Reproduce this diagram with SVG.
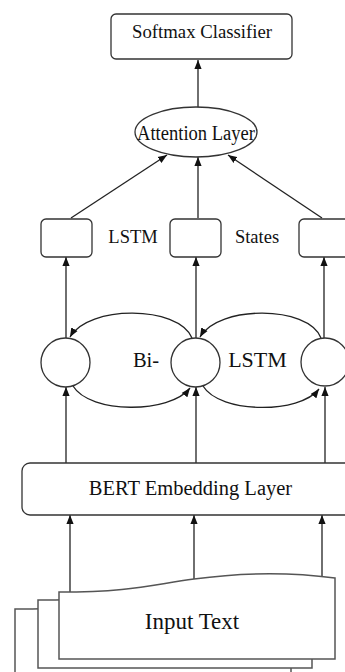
<svg xmlns="http://www.w3.org/2000/svg" width="345" height="672" viewBox="0 0 345 672">
<style>
.n{fill:#fff;stroke:#333;stroke-width:1.3}
.doc{fill:#fff;stroke:#555;stroke-width:1.5}
.t{font-family:"Liberation Serif","DejaVu Serif",serif;fill:#111;text-anchor:middle}
.e{fill:none;stroke:#222;stroke-width:1.3}
</style>
<defs>
<marker id="ah" viewBox="0 0 10 8" refX="10" refY="4" markerWidth="9" markerHeight="8" markerUnits="userSpaceOnUse" orient="auto">
<path d="M0,0 L10,4 L0,8 z" fill="#111"/>
</marker>
</defs>
<rect width="345" height="672" fill="#fff"/>
<g id="connectors" marker-end="url(#ah)">
<path class="e" d="M198,107 L198,60"/>
<path class="e" d="M71,218 L167,155"/>
<path class="e" d="M198,218 L198,157"/>
<path class="e" d="M322,218 L228,155"/>
<path class="e" d="M66,338 L66,257"/>
<path class="e" d="M196,338 L196,257"/>
<path class="e" d="M324,338 L324,257"/>
<path class="e" d="M192,338 C178,305 88,305 70,337"/>
<path class="e" d="M321,338 C308,305 218,305 200,337"/>
<path class="e" d="M73,386 C90,414 170,414 190,388"/>
<path class="e" d="M203,386 C220,414 300,414 319,389"/>
<path class="e" d="M66,463 L66,387"/>
<path class="e" d="M196,463 L196,387"/>
<path class="e" d="M325,463 L325,387"/>
<path class="e" d="M70,592 L70,515"/>
<path class="e" d="M194,579 L194,515"/>
<path class="e" d="M322,577 L322,515"/>
</g>
<g id="softmax">
<rect class="n" x="111" y="14" width="181" height="45" rx="5"/>
<text class="t" font-family="Liberation Serif, serif" x="202" y="38" font-size="18" textLength="140" lengthAdjust="spacingAndGlyphs">Softmax Classifier</text>
</g>
<g id="attention">
<ellipse class="n" cx="196" cy="132" rx="61" ry="25"/>
<text class="t" font-family="Liberation Serif, serif" x="196" y="140" font-size="20" textLength="118" lengthAdjust="spacingAndGlyphs">Attention Layer</text>
</g>
<g id="state1"><rect class="n" x="41" y="219" width="51" height="38" rx="5"/></g>
<g id="state2"><rect class="n" x="170" y="219" width="51" height="38" rx="5"/></g>
<g id="state3"><rect class="n" x="299" y="219" width="51" height="38" rx="5"/></g>
<g id="label-lstm-states">
<text class="t" font-family="Liberation Serif, serif" x="133" y="243" font-size="18.5">LSTM</text>
<text class="t" font-family="Liberation Serif, serif" x="257" y="243" font-size="18.5">States</text>
</g>
<g id="cell1"><circle class="n" cx="65.5" cy="362.5" r="24.5"/></g>
<g id="cell2"><circle class="n" cx="195.5" cy="362.5" r="24.5"/></g>
<g id="cell3"><circle class="n" cx="325" cy="362" r="24"/></g>
<g id="label-bilstm">
<text class="t" font-family="Liberation Serif, serif" x="146" y="367" font-size="20.5">Bi-</text>
<text class="t" font-family="Liberation Serif, serif" x="257.5" y="367" font-size="22">LSTM</text>
</g>
<g id="bert">
<rect class="n" x="22" y="463" width="340" height="52" rx="8"/>
<text class="t" font-family="Liberation Serif, serif" x="190.5" y="495" font-size="20.5">BERT Embedding Layer</text>
</g>
<g id="input">
<path class="doc" d="M15,609 C86,609 106,602 150,596 S246,589 291,595 L291,685 L15,685 Z"/>
<path class="doc" d="M38,600 C109,600 129,593 173,587 S269,580 312,586 L312,668 L38,668 Z"/>
<path class="doc" d="M59,592 C130,592 150,585 194,579 S290,572 335,578 L335,659 L59,659 Z"/>
<text class="t" font-family="Liberation Serif, serif" x="192" y="629" font-size="23">Input Text</text>
</g>
</svg>
